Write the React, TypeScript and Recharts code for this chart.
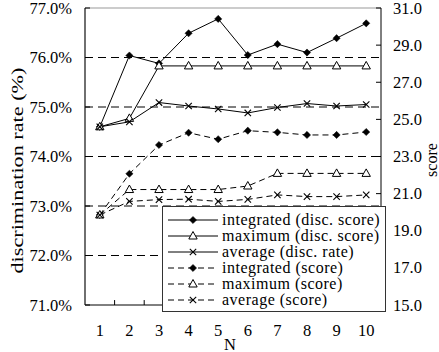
import React from 'react';
import { ComposedChart, Line, XAxis, YAxis, ReferenceLine } from 'recharts';

const nValues = [1, 2, 3, 4, 5, 6, 7, 8, 9, 10];
const integratedDisc = [74.6, 76.04, 75.88, 76.49, 76.78, 76.05, 76.27, 76.1, 76.39, 76.69];
const maximumDisc = [74.6, 74.77, 75.83, 75.83, 75.83, 75.83, 75.83, 75.83, 75.83, 75.83];
const averageDisc = [74.6, 74.7, 75.09, 75.02, 74.96, 74.88, 74.99, 75.07, 75.02, 75.05];
const integratedScore = [19.85, 22.07, 23.62, 24.28, 23.93, 24.39, 24.3, 24.16, 24.16, 24.32];
const maximumScore = [19.85, 21.22, 21.22, 21.22, 21.22, 21.41, 22.09, 22.09, 22.09, 22.09];
const averageScore = [19.85, 20.58, 20.68, 20.7, 20.58, 20.69, 20.93, 20.84, 20.84, 20.93];
const leftTicks = [71, 72, 73, 74, 75, 76, 77];
const rightTicks = [15, 17, 19, 21, 23, 25, 27, 29, 31];
const gridValues = [72, 73, 74, 75, 76];
const boundaryTicks = [1.5, 2.5, 3.5, 4.5, 5.5, 6.5, 7.5, 8.5, 9.5];
const legendLabels = [
  'integrated (disc. score)',
  'maximum (disc. score)',
  'average (disc. rate)',
  'integrated (score)',
  'maximum (score)',
  'average (score)',
];

const data = nValues.map((n, i) => ({
  n,
  integratedDisc: integratedDisc[i],
  maximumDisc: maximumDisc[i],
  averageDisc: averageDisc[i],
  integratedScore: integratedScore[i],
  maximumScore: maximumScore[i],
  averageScore: averageScore[i],
}));

const FONT = 'Liberation Serif';

const diamondPath = (cx: number, cy: number) => {
  const r = 3.6;
  return `M${cx},${cy - r}L${cx + r},${cy}L${cx},${cy + r}L${cx - r},${cy}Z`;
};
const trianglePath = (cx: number, cy: number) =>
  `M${cx},${cy - 4.5}L${cx + 4.2},${cy + 3}L${cx - 4.2},${cy + 3}Z`;

const Marker = ({ kind, cx, cy }: { kind: string; cx: number; cy: number }) => {
  if (kind === 'diamond') return <path d={diamondPath(cx, cy)} fill="#000" stroke="#000" strokeWidth={0.5} />;
  if (kind === 'triangle') return <path d={trianglePath(cx, cy)} fill="#fff" stroke="#000" strokeWidth={1} />;
  return (
    <g stroke="#000" strokeWidth={1.1}>
      <line x1={cx - 3.2} y1={cy - 3.2} x2={cx + 3.2} y2={cy + 3.2} />
      <line x1={cx - 3.2} y1={cy + 3.2} x2={cx + 3.2} y2={cy - 3.2} />
    </g>
  );
};

const makeDot = (kind: string) => (p: any) => {
  if (p.cx == null || p.cy == null) return <g key={p.index} />;
  return (
    <g key={`${kind}-${p.index}`}>
      <Marker kind={kind} cx={p.cx} cy={p.cy} />
    </g>
  );
};

const series = [
  { key: 'integratedDisc', axis: 'left', kind: 'diamond', dashed: false },
  { key: 'maximumDisc', axis: 'left', kind: 'triangle', dashed: false },
  { key: 'averageDisc', axis: 'left', kind: 'cross', dashed: false },
  { key: 'integratedScore', axis: 'right', kind: 'diamond', dashed: true },
  { key: 'maximumScore', axis: 'right', kind: 'triangle', dashed: true },
  { key: 'averageScore', axis: 'right', kind: 'cross', dashed: true },
];

const txt = { fontFamily: FONT, fill: '#000' } as any;

const LeftTick = (p: any) => (
  <g>
    <line x1={p.x} y1={p.y} x2={p.x + 5} y2={p.y} stroke="#000" />
    <text x={p.x - 13} y={p.y} textAnchor="end" dominantBaseline="central" style={{ ...txt, fontSize: 16.5 }}>
      {`${Number(p.payload.value).toFixed(1)}%`}
    </text>
  </g>
);

const RightTick = (p: any) => (
  <g>
    <line x1={p.x - 5} y1={p.y} x2={p.x} y2={p.y} stroke="#000" />
    <text x={p.x + 12} y={p.y} textAnchor="start" dominantBaseline="central" style={{ ...txt, fontSize: 16.5 }}>
      {Number(p.payload.value).toFixed(1)}
    </text>
  </g>
);

const BottomTick = (p: any) => (
  <text x={p.x} y={p.y + 25} textAnchor="middle" dominantBaseline="central" style={{ ...txt, fontSize: 16.5 }}>
    {p.payload.value}
  </text>
);

const LeftTitle = (p: any) => {
  const vb = p.viewBox || { x: 0, y: 8, width: 85, height: 297 };
  const cx = vb.x + 17;
  const cy = vb.y + vb.height / 2 + 14;
  return (
    <text
      x={cx}
      y={cy}
      transform={`rotate(-90 ${cx} ${cy})`}
      textAnchor="middle"
      dominantBaseline="central"
      style={{ ...txt, fontSize: 16.5 }}
      textLength={206}
      lengthAdjust="spacingAndGlyphs"
    >
      discrimination rate (%)
    </text>
  );
};

const RightTitle = (p: any) => {
  const vb = p.viewBox || { x: 381, y: 8, width: 58, height: 297 };
  const cx = vb.x + 50;
  const cy = vb.y + 152;
  return (
    <text x={cx} y={cy} transform={`rotate(-90 ${cx} ${cy})`} textAnchor="middle" dominantBaseline="central" style={{ ...txt, fontSize: 16 }}>
      score
    </text>
  );
};

const XTitle = (p: any) => {
  const vb = p.viewBox || { x: 85, y: 305, width: 296, height: 47 };
  return (
    <text x={vb.x + vb.width / 2 - 3} y={vb.y + 39} textAnchor="middle" dominantBaseline="central" style={{ ...txt, fontSize: 16.5 }}>
      N
    </text>
  );
};

const LegendBox = () => (
  <div
    style={{
      position: 'absolute',
      left: 162,
      top: 206,
      width: 224,
      height: 106,
      boxSizing: 'border-box',
      border: '1px solid #333',
      background: '#fff',
      paddingTop: 5,
      fontFamily: FONT,
      fontSize: 16,
      letterSpacing: '0.5px',
      color: '#000',
    }}
  >
    {series.map((s, i) => (
      <div key={s.key} style={{ display: 'flex', alignItems: 'center', height: 16, whiteSpace: 'nowrap' }}>
        <svg width={59} height={16} style={{ flex: 'none' }}>
          <line x1={5} y1={8} x2={55} y2={8} stroke="#000" strokeWidth={1} strokeDasharray={s.dashed ? '6 4' : undefined} />
          <Marker kind={s.kind} cx={30} cy={8} />
        </svg>
        <span style={{ lineHeight: '16px' }}>{legendLabels[i]}</span>
      </div>
    ))}
  </div>
);

export default function App() {
  return (
    <div style={{ position: 'absolute', left: 0, top: 0, width: 439, height: 352, background: '#fff' }}>
      <ComposedChart width={439} height={352} data={data} margin={{ top: 8, right: 0, bottom: 0, left: 0 }}>
        <XAxis
          xAxisId="x"
          dataKey="n"
          type="number"
          domain={[0.5, 10.5]}
          ticks={nValues}
          interval={0}
          tickLine={false}
          tickSize={0}
          tickMargin={0}
          axisLine={{ stroke: '#000', strokeWidth: 1 }}
          height={47}
          tick={<BottomTick />}
          label={<XTitle />}
        />
        <YAxis
          yAxisId="left"
          orientation="left"
          type="number"
          domain={[71, 77]}
          ticks={leftTicks}
          interval={0}
          width={85}
          tickLine={false}
          tickSize={0}
          tickMargin={0}
          axisLine={{ stroke: '#222', strokeWidth: 1.3 }}
          tick={<LeftTick />}
          label={<LeftTitle />}
        />
        <YAxis
          yAxisId="right"
          orientation="right"
          type="number"
          domain={[15, 31]}
          ticks={rightTicks}
          interval={0}
          width={58}
          tickLine={false}
          tickSize={0}
          tickMargin={0}
          axisLine={{ stroke: '#000', strokeWidth: 1 }}
          tick={<RightTick />}
          label={<RightTitle />}
        />
        {gridValues.map((g) => (
          <ReferenceLine key={`g${g}`} xAxisId="x" yAxisId="left" y={g} stroke="#000" strokeWidth={1} strokeDasharray="8 5" />
        ))}
        <ReferenceLine xAxisId="x" yAxisId="left" y={77} stroke="#999" strokeWidth={1} />
        {boundaryTicks.map((b) => (
          <ReferenceLine
            key={`b${b}`}
            xAxisId="x"
            yAxisId="left"
            segment={[{ x: b, y: 71 }, { x: b, y: 71.1 }]}
            stroke="#000"
            strokeWidth={1}
          />
        ))}
        {series.map((s) => (
          <Line
            key={s.key}
            xAxisId="x"
            yAxisId={s.axis}
            dataKey={s.key}
            type="linear"
            stroke="#000"
            strokeWidth={1}
            strokeDasharray={s.dashed ? '6 4' : undefined}
            dot={makeDot(s.kind)}
            activeDot={false}
            isAnimationActive={false}
          />
        ))}
      </ComposedChart>
      <LegendBox />
    </div>
  );
}
